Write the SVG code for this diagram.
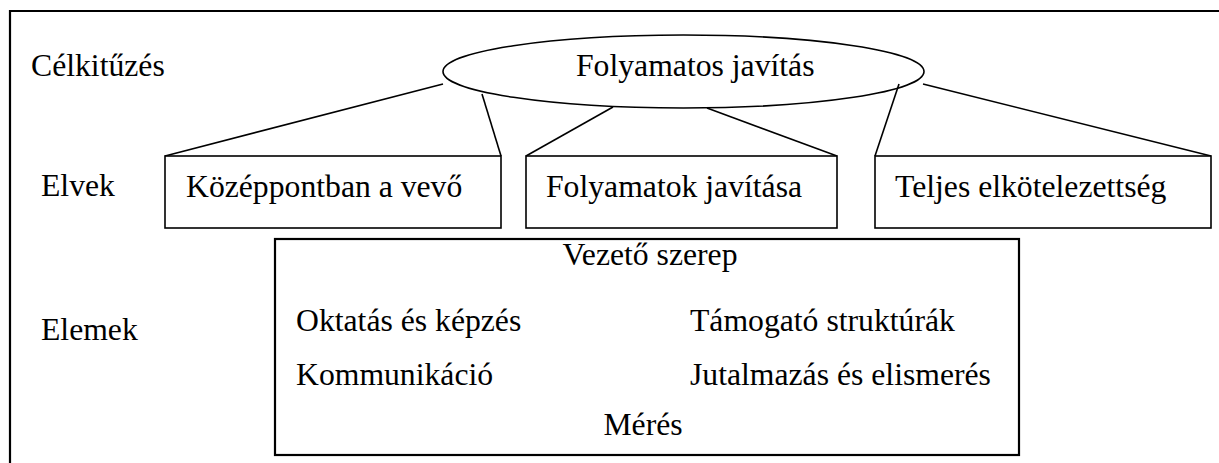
<svg xmlns="http://www.w3.org/2000/svg" width="1219" height="463" viewBox="0 0 1219 463">
<style>
text{font-family:"Liberation Serif","Times New Roman","DejaVu Serif",serif;font-size:31.7px;fill:#000}
.box{fill:#fff;stroke:#000;stroke-width:1.6}
.big{fill:#fff;stroke:#000;stroke-width:2.2}
.ln{stroke:#000;stroke-width:1.6;fill:none}
</style>
<rect x="0" y="0" width="1219" height="463" fill="#fff"/>
<path d="M10,463 V11 H1219" fill="none" stroke="#000" stroke-width="2.2"/>
<g id="labels" font-family="Liberation Serif, serif">
<text x="31" y="76">Célkitűzés</text>
<text x="41" y="196">Elvek</text>
<text x="41" y="340">Elemek</text>
</g>
<g id="connectors">
<line class="ln" x1="443" y1="84" x2="165" y2="156"/>
<line class="ln" x1="482" y1="94" x2="501" y2="156"/>
<line class="ln" x1="613" y1="107" x2="526" y2="156"/>
<line class="ln" x1="707" y1="108" x2="837" y2="156"/>
<line class="ln" x1="899" y1="84" x2="875" y2="156"/>
<line class="ln" x1="923" y1="84" x2="1211" y2="156"/>
</g>
<g id="goal">
<ellipse cx="683.5" cy="71.5" rx="240.5" ry="36.5" fill="none" stroke="#000" stroke-width="1.6"/>
<text x="576" y="76">Folyamatos javítás</text>
</g>
<g id="principle-customer">
<rect class="box" x="165" y="156" width="336" height="72"/>
<text x="186" y="197">Középpontban a vevő</text>
</g>
<g id="principle-process">
<rect class="box" x="526" y="156" width="311" height="72"/>
<text x="546" y="197">Folyamatok javítása</text>
</g>
<g id="principle-commitment">
<rect class="box" x="875" y="156" width="336" height="72"/>
<text x="895" y="197">Teljes elkötelezettség</text>
</g>
<g id="elements">
<rect class="big" x="275" y="239" width="744" height="216"/>
<text x="650" y="265" text-anchor="middle">Vezető szerep</text>
<text x="296" y="331">Oktatás és képzés</text>
<text x="690" y="331">Támogató struktúrák</text>
<text x="296" y="385">Kommunikáció</text>
<text x="690" y="385">Jutalmazás és elismerés</text>
<text x="643" y="435" text-anchor="middle">Mérés</text>
</g>
</svg>
